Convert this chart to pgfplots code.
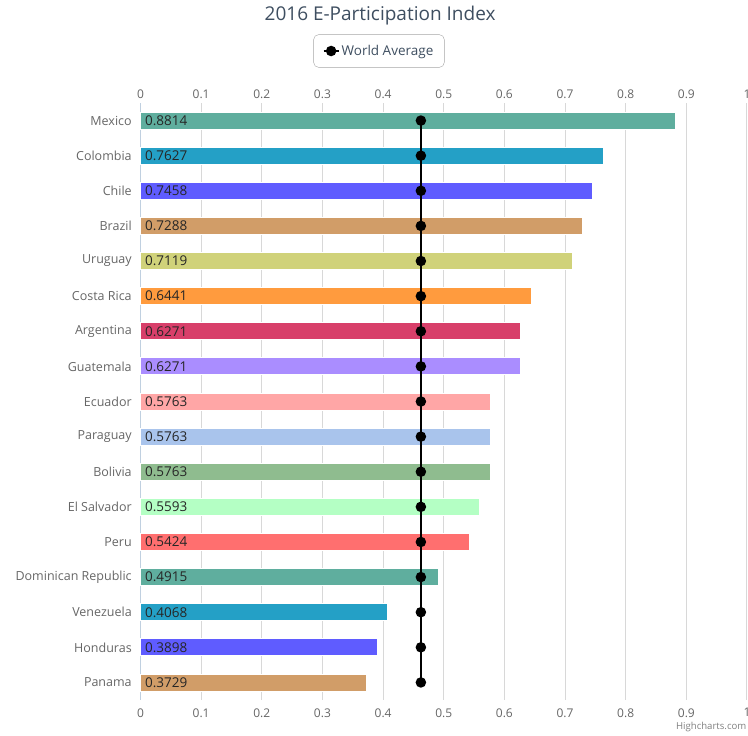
\documentclass[border=0pt]{standalone}
\usepackage{pgfplots}
\pgfplotsset{compat=1.18}
\usepackage{pgfplotstable}
\usepackage{fontspec}
\setmainfont{Open Sans}

\definecolor{titlec}{HTML}{3E4E60}
\definecolor{labc}{HTML}{666666}
\definecolor{gridc}{HTML}{D8D8D8}
\definecolor{axc}{HTML}{C0D0E0}
\definecolor{c1}{HTML}{5FAE9E}
\definecolor{c2}{HTML}{24A0C6}
\definecolor{c3}{HTML}{5F5CFF}
\definecolor{c4}{HTML}{D19D68}
\definecolor{c5}{HTML}{D0D27A}
\definecolor{c6}{HTML}{FF9B3E}
\definecolor{c7}{HTML}{D83F6A}
\definecolor{c8}{HTML}{AA8DFF}
\definecolor{c9}{HTML}{FFA6A6}
\definecolor{c10}{HTML}{A9C4EC}
\definecolor{c11}{HTML}{8FBC8F}
\definecolor{c12}{HTML}{B4FFC4}
\definecolor{c13}{HTML}{FF6F6F}

% idx = row from the top
\pgfplotstableread{
idx val
0  0.8814
1  0.7627
2  0.7458
3  0.7288
4  0.7119
5  0.6441
6  0.6271
7  0.6271
8  0.5763
9  0.5763
10 0.5763
11 0.5593
12 0.5424
13 0.4915
14 0.4068
15 0.3898
16 0.3729
}\eparts

\pgfplotstableread{
idx avg
0  0.4623
1  0.4623
2  0.4623
3  0.4623
4  0.4623
5  0.4623
6  0.4623
7  0.4623
8  0.4623
9  0.4623
10 0.4623
11 0.4623
12 0.4623
13 0.4623
14 0.4623
15 0.4623
16 0.4623
}\worldavg

\pgfplotsset{
  onebar/.style={xbar, bar width=17pt, bar shift=0pt, draw=white, line width=0.8pt, fill=#1, forget plot},
}

\begin{document}
\begin{tikzpicture}
\useasboundingbox (-140.5pt,-36pt) rectangle (607.5pt,700pt);
\clip (-140.5pt,-36pt) rectangle (607.5pt,700pt);
\begin{axis}[
  scale only axis,
  width=606.5pt, height=597pt,
  xmin=0, xmax=1,
  ymin=-0.5, ymax=16.5,
  y dir=reverse,
  xtick={0,0.1,...,1},
  xticklabels={0,0.1,0.2,0.3,0.4,0.5,0.6,0.7,0.8,0.9,1},
  ytick={0,...,16},
  yticklabels={Mexico,Colombia,Chile,Brazil,Uruguay,Costa Rica,Argentina,Guatemala,Ecuador,Paraguay,Bolivia,El Salvador,Peru,Dominican Republic,Venezuela,Honduras,Panama},
  minor ytick={-0.5,0.5,...,16.5},
  xmajorgrids,
  major grid style={gridc, line width=1pt},
  axis x line*=bottom, axis y line*=left,
  x axis line style={draw=none},
  y axis line style={axc, line width=1pt},
  xtick style={draw=none},
  ytick style={draw=none},
  minor y tick style={axc, line width=1pt},
  minor tick length=5pt,
  tick align=outside,
  xticklabel style={font=\fontsize{12}{14}\selectfont, text=labc, yshift=-0.5pt},
  yticklabel style={font=\fontsize{12.5}{14}\selectfont, text=labc, xshift=-1pt},
  every axis title shift=0pt,
  title={2016 E-Participation Index},
  title style={at={(0.395,1.146)}, anchor=center, font=\fontsize{19}{21}\selectfont, text=titlec},
  legend style={at={(0.3932,1.0871)}, anchor=center, draw=gray!70, rounded corners=5pt,
    font=\fontsize{13.5}{15}\selectfont, text=titlec, inner xsep=9pt, inner ysep=8.5pt},
  legend image code/.code={\draw[mark repeat=2, mark phase=2, #1] plot coordinates {(0pt,0pt) (7.5pt,0pt) (15pt,0pt)};},
  clip=false,
]
\addplot[onebar=c1]  coordinates {(0.8814,0)};
\addplot[onebar=c2]  coordinates {(0.7627,1)};
\addplot[onebar=c3]  coordinates {(0.7458,2)};
\addplot[onebar=c4]  coordinates {(0.7288,3)};
\addplot[onebar=c5]  coordinates {(0.7119,4)};
\addplot[onebar=c6]  coordinates {(0.6441,5)};
\addplot[onebar=c7]  coordinates {(0.6271,6)};
\addplot[onebar=c8]  coordinates {(0.6271,7)};
\addplot[onebar=c9]  coordinates {(0.5763,8)};
\addplot[onebar=c10] coordinates {(0.5763,9)};
\addplot[onebar=c11] coordinates {(0.5763,10)};
\addplot[onebar=c12] coordinates {(0.5593,11)};
\addplot[onebar=c13] coordinates {(0.5424,12)};
\addplot[onebar=c1]  coordinates {(0.4915,13)};
\addplot[onebar=c2]  coordinates {(0.4068,14)};
\addplot[onebar=c3]  coordinates {(0.3898,15)};
\addplot[onebar=c4]  coordinates {(0.3729,16)};
% value labels at the start of each bar
\addplot[draw=none, no markers, forget plot,
  point meta=explicit symbolic,
  nodes near coords,
  every node near coord/.style={anchor=west, xshift=1pt, text=black!85,
    font=\fontsize{13.5}{15}\selectfont}]
  table[x expr=0, y=idx, meta=val] {\eparts};
\addplot[black, line width=2pt, mark=*, mark size=4.2pt] table[x=avg, y=idx] {\worldavg};
\addlegendentry{World Average}
\node[anchor=center, font=\fontsize{9.6}{11}\selectfont, text=gray] at (axis description cs:0.941,-0.0452) {Highcharts.com};
\end{axis}
\begin{axis}[
  scale only axis,
  width=606.5pt, height=597pt,
  xmin=0, xmax=1, ymin=0, ymax=1,
  xtick={0,0.1,...,1},
  xticklabels={0,0.1,0.2,0.3,0.4,0.5,0.6,0.7,0.8,0.9,1},
  axis x line*=top,
  hide y axis,
  x axis line style={draw=none},
  xtick style={draw=none},
  xticklabel pos=upper,
  xticklabel style={font=\fontsize{12}{14}\selectfont, text=labc, yshift=0.5pt},
]
\end{axis}
\end{tikzpicture}
\end{document}
